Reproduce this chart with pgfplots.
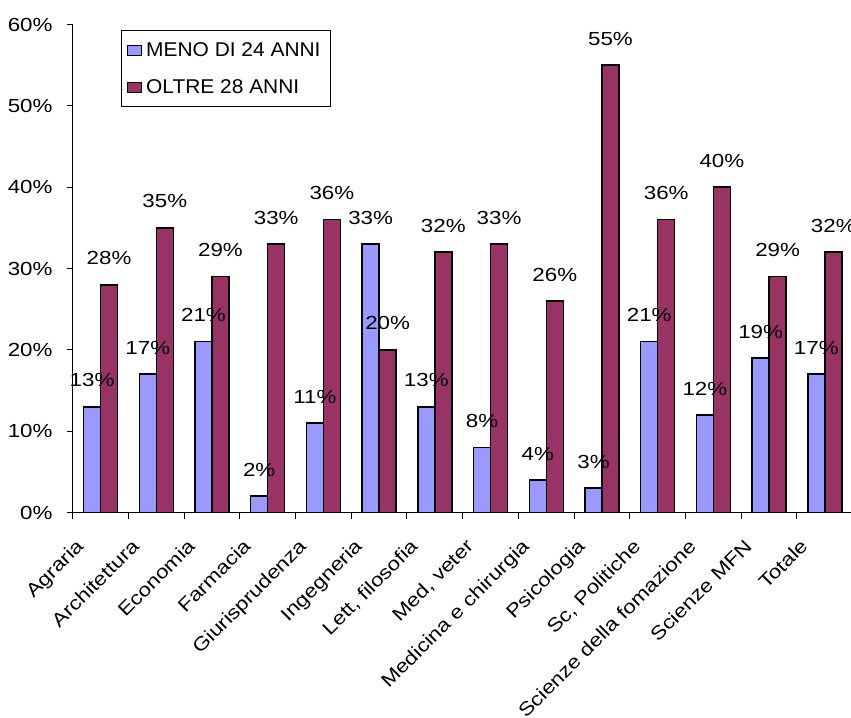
\documentclass[border=0pt]{standalone}
\usepackage{pgfplots}
\pgfplotsset{compat=1.18}
\usepackage{fontspec}
\setmainfont{Liberation Sans}
\newfontfamily\widesans[FakeStretch=1.18]{Liberation Sans}
\newfontfamily\legsans[FakeStretch=1.05]{Liberation Sans}
\definecolor{barblue}{RGB}{153,153,255}
\definecolor{barred}{RGB}{153,51,102}
\newcommand{\lblfont}{\widesans\fontsize{19}{23}\selectfont}
\begin{document}
\begin{tikzpicture}
\begin{axis}[
  at={(0,0)}, anchor=south west,
  scale only axis, width=780bp, height=488bp,
  ybar=0pt, bar width=17bp,
  xmin=-0.5, xmax=13.5, ymin=0, ymax=60,
  axis x line=bottom, axis y line=left,
  axis line style={-, line width=1bp},
  tick align=outside,
  major tick length=6bp, minor tick length=6bp,
  tick style={black, line width=1bp},
  xtick={0,...,13},
  major x tick style={draw=none},
  minor xtick={-0.5,0.5,...,13.5},
  xticklabels={Agraria, Architettura, Economia, Farmacia, Giurisprudenza,
    Ingegneria, {Lett, filosofia}, {Med, veter}, Medicina e chirurgia,
    Psicologia, {Sc, Politiche}, Scienze della fomazione, Scienze MFN, Totale},
  xticklabel style={xshift=-16bp, yshift=-29bp, rotate=45, anchor=base east,
    font=\lblfont, inner sep=0pt},
  ytick={0,10,...,60},
  yticklabels={0\%,10\%,20\%,30\%,40\%,50\%,60\%},
  yticklabel style={font=\lblfont, anchor=east, inner sep=0pt, xshift=-14bp},
  /pgf/number format/assume math mode=true,
  nodes near coords={\pgfmathprintnumber{\pgfplotspointmeta}\%},
  every node near coord/.append style={font=\lblfont, inner sep=0pt, yshift=19bp},
  legend style={at={(48bp,482bp)}, anchor=north west, draw=black, line width=1bp,
    font=\legsans\fontsize{20}{24}\selectfont, inner xsep=6bp, inner ysep=10bp,
    row sep=17bp, nodes={inner xsep=4bp, inner ysep=2bp}},
  legend cell align=left,
]
\addplot[fill=barblue, draw=black, line width=1.5bp,
  legend image code/.code={\draw[fill=barblue, draw=black, line width=1bp] (0bp,-5bp) rectangle (14bp,5bp);}]
  coordinates {(0,13) (1,17) (2,21) (3,2) (4,11) (5,33) (6,13) (7,8) (8,4) (9,3) (10,21) (11,12) (12,19) (13,17)};
\addplot[fill=barred, draw=black, line width=1.5bp,
  legend image code/.code={\draw[fill=barred, draw=black, line width=1bp] (0bp,-5bp) rectangle (14bp,5bp);}]
  coordinates {(0,28) (1,35) (2,29) (3,33) (4,36) (5,20) (6,32) (7,33) (8,26) (9,55) (10,36) (11,40) (12,29) (13,32)};
\legend{MENO DI 24 ANNI, OLTRE 28 ANNI}
\end{axis}
\pgfresetboundingbox
\path (-72.7bp,-205.5bp) rectangle (778.3bp,512.5bp);
\end{tikzpicture}
\end{document}
